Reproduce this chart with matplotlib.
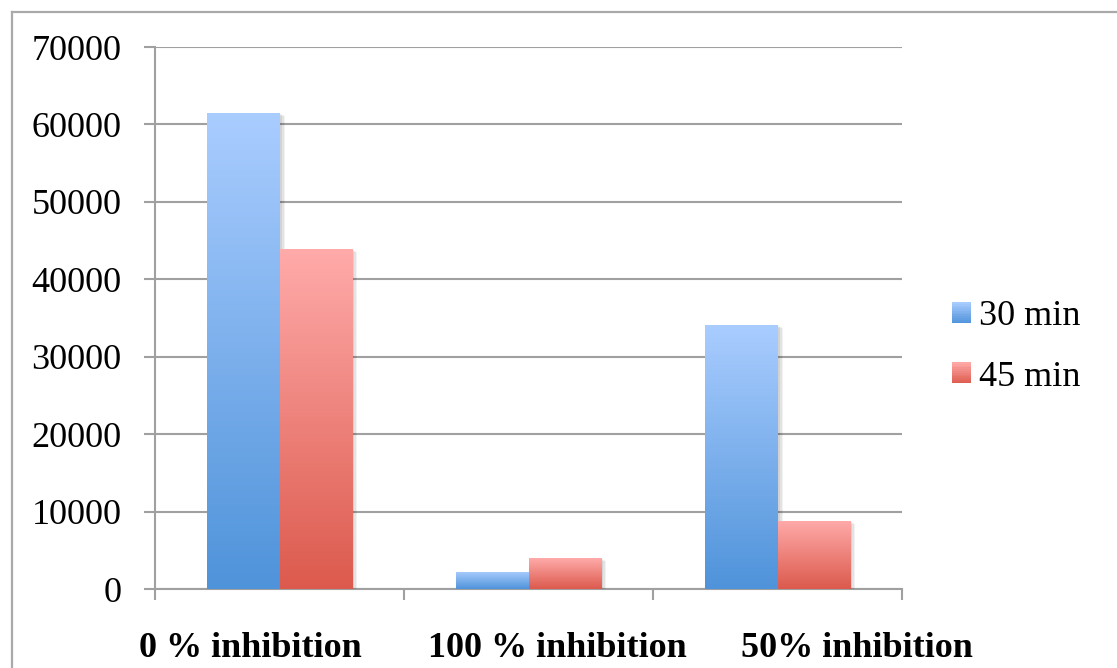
import numpy as np
import matplotlib
matplotlib.use("Agg")
import matplotlib.pyplot as plt
from matplotlib.patches import Rectangle
from matplotlib.legend_handler import HandlerBase
from matplotlib.colors import LinearSegmentedColormap, to_rgb
from matplotlib.transforms import ScaledTranslation
import matplotlib.patheffects as pe

categories = ["0 % inhibition", "100 % inhibition", "50% inhibition"]
series_names = ["30 min", "45 min"]
values_30 = [61500, 2200, 34100]
values_45 = [43900, 4000, 8800]
y_ticks = [0, 10000, 20000, 30000, 40000, 50000, 60000, 70000]

# (top colour, bottom colour) of each series' vertical gradient
gradients = [("#AACDFF", "#4F93DA"), ("#FFABAA", "#DC5A4D")]

plt.rcParams["font.family"] = ["Liberation Serif", "DejaVu Serif"]
grey = "#A0A0A0"

fig = plt.figure(figsize=(11.17, 6.68), dpi=100)
ax = fig.add_axes([155 / 1117, 1 - 589 / 668, (902 - 155) / 1117, (589 - 47) / 668])

# outer chart frame (top and left edges visible)
fig.add_artist(plt.Line2D([12 / 1117, 1.0], [1 - 12 / 668] * 2, transform=fig.transFigure,
                          color="#AAAAAA", lw=1.6))
fig.add_artist(plt.Line2D([12 / 1117] * 2, [0, 1 - 12 / 668], transform=fig.transFigure,
                          color="#AAAAAA", lw=1.6))

x = np.arange(len(categories))
width = 0.29
series = [values_30, values_45]
offsets = [-width / 2, width / 2]

shadow = [pe.SimplePatchShadow(offset=(4, -2), shadow_rgbFace="#000000", alpha=0.05),
          pe.SimplePatchShadow(offset=(3, -1.5), shadow_rgbFace="#000000", alpha=0.06),
          pe.SimplePatchShadow(offset=(2, -1), shadow_rgbFace="#000000", alpha=0.07),
          pe.Normal()]

for vals, off, (top, bottom), name in zip(series, offsets, gradients, series_names):
    bars = ax.bar(x + off, vals, width, color=bottom, label=name, zorder=3, path_effects=shadow)
    cmap = LinearSegmentedColormap.from_list(name, [bottom, top])
    grad = np.linspace(0, 1, 256).reshape(-1, 1)
    for b in bars:
        x0, y0 = b.get_x(), b.get_y()
        im = ax.imshow(grad, cmap=cmap, origin="lower", aspect="auto",
                       extent=(x0, x0 + b.get_width(), y0, y0 + b.get_height()),
                       zorder=4, interpolation="bilinear")
        im.set_clip_path(b)

ax.set_xlim(-0.5, len(categories) - 0.5)
ax.set_ylim(0, 70000)

ax.set_yticks(y_ticks)
ax.set_yticklabels([str(t) for t in y_ticks], fontsize=26)
ax.yaxis.grid(True, color=grey, lw=1.5, zorder=0)
ax.set_axisbelow(True)

ax.set_xticks(x)
ax.set_xticklabels(categories, fontsize=26, fontweight="bold")
ax.set_xticks(np.arange(-0.5, len(categories)), minor=True)
ax.tick_params(axis="x", which="major", length=0, pad=31)
ax.tick_params(axis="x", which="minor", length=8, width=1.5, color=grey, direction="out")
ax.tick_params(axis="y", length=8, width=1.5, color=grey, direction="out", pad=16)

# spread the wide category labels apart so they do not collide
label_shift_px = [-29, 29, 79]
for lab, dx in zip(ax.get_xticklabels(), label_shift_px):
    lab.set_transform(lab.get_transform() + ScaledTranslation(dx / 100, 0, fig.dpi_scale_trans))

for s in ["top", "right"]:
    ax.spines[s].set_visible(False)
for s in ["left", "bottom"]:
    ax.spines[s].set_color(grey)
    ax.spines[s].set_linewidth(1.5)


class GradientHandler(HandlerBase):
    def __init__(self, top, bottom, n=12):
        super().__init__()
        self.top, self.bottom, self.n = to_rgb(top), to_rgb(bottom), n

    def create_artists(self, legend, orig_handle, xdescent, ydescent, width, height, fontsize, trans):
        arts = []
        h = height / self.n
        for i in range(self.n):
            t = (i + 0.5) / self.n
            c = tuple(self.bottom[k] + (self.top[k] - self.bottom[k]) * t for k in range(3))
            arts.append(Rectangle((-xdescent, -ydescent + i * h), width, h * 1.05,
                                  facecolor=c, edgecolor="none", transform=trans))
        return arts


handles = [Rectangle((0, 0), 1, 1) for _ in series_names]
leg = ax.legend(handles, series_names, loc="center left",
                bbox_to_anchor=(952 / 1117, 1 - 347 / 668), bbox_transform=fig.transFigure,
                frameon=False, fontsize=26, handlelength=0.53, handleheight=0.53,
                handletextpad=0.22, labelspacing=0.75, borderpad=0, borderaxespad=0,
                handler_map={h: GradientHandler(*g) for h, g in zip(handles, gradients)})

fig.savefig("out.png", dpi=100)
